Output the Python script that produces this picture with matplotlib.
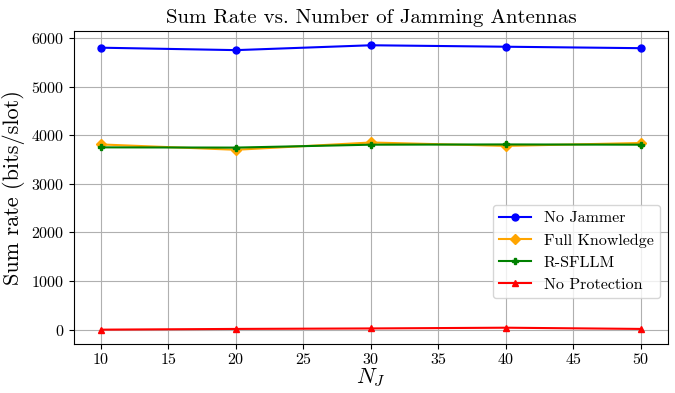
import matplotlib
matplotlib.use("Agg")
import matplotlib.pyplot as plt

plt.rcParams['font.family'] = 'serif'
plt.rcParams['font.serif'] = ['cmr10']
plt.rcParams['mathtext.fontset'] = 'cm'
plt.rcParams['axes.formatter.use_mathtext'] = True
plt.rcParams['axes.unicode_minus'] = False

n_j = [10, 20, 30, 40, 50]
no_jammer = [5800, 5750, 5850, 5820, 5790]
full_knowledge = [3810, 3700, 3850, 3780, 3840]
r_sfllm = [3750, 3745, 3805, 3810, 3805]
no_protection = [0, 15, 25, 40, 15]

fig, ax = plt.subplots(figsize=(6.75, 3.93), dpi=100)
ax.plot(n_j, no_jammer, color='blue', marker='o', markersize=5, label='No Jammer')
ax.plot(n_j, full_knowledge, color='orange', marker='D', markersize=5, label='Full Knowledge')
ax.plot(n_j, r_sfllm, color='green', marker='P', markersize=5, label='R-SFLLM')
ax.plot(n_j, no_protection, color='red', marker='^', markersize=5, label='No Protection')

ax.set_title('Sum Rate vs. Number of Jamming Antennas', fontsize=15)
ax.set_xlabel('$N_J$', fontsize=16, labelpad=0)
ax.set_ylabel('Sum rate (bits/slot)', fontsize=16)
ax.set_xticks([10, 15, 20, 25, 30, 35, 40, 45, 50])
ax.set_yticks([0, 1000, 2000, 3000, 4000, 5000, 6000])
ax.tick_params(labelsize=11.5)
ax.tick_params(axis='x', pad=2.5)
ax.grid(True)
ax.legend(loc='lower right', bbox_to_anchor=(1.0, 0.12), fontsize=11.5)
fig.subplots_adjust(left=0.1096, right=0.9896, top=0.921, bottom=0.125)
fig.savefig('out.png', dpi=100)
